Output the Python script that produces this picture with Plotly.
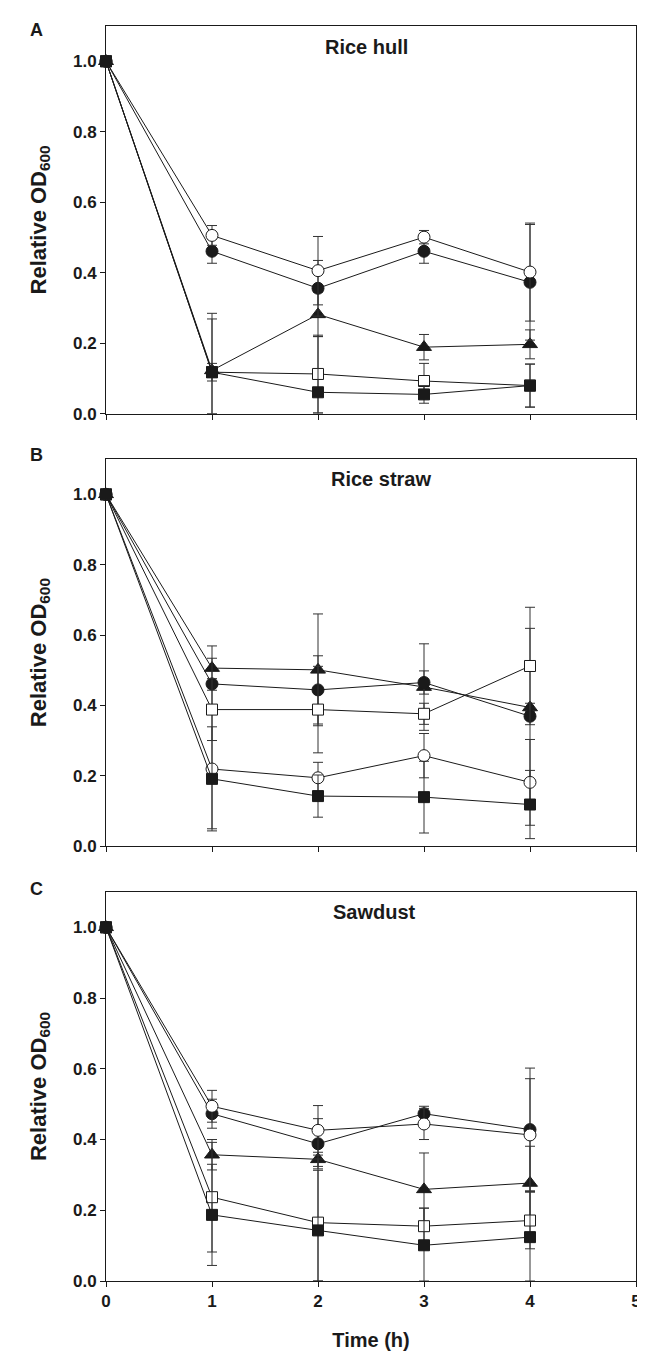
import plotly.graph_objects as go

time_h = [0, 1, 2, 3, 4]

# Panel A: Rice hull
A_fc = [1.0, 0.461, 0.356, 0.461, 0.373]
A_fc_err = [0, 0.034, 0.079, 0.034, 0.164]
A_oc = [1.0, 0.506, 0.406, 0.501, 0.402]
A_oc_err = [0, 0.028, 0.097, 0.019, 0.139]
A_tri = [1.0, 0.123, 0.282, 0.189, 0.197]
A_tri_err = [0, 0.146, 0.063, 0.036, 0.041]
A_os = [1.0, 0.118, 0.113, 0.093, 0.080]
A_os_err = [0, 0.025, 0.110, 0.050, 0.061]
A_fs = [1.0, 0.118, 0.061, 0.055, 0.080]
A_fs_err = [0, 0.167, 0.158, 0.025, 0.061]

# Panel B: Rice straw
B_fc = [1.0, 0.461, 0.444, 0.465, 0.369]
B_fc_err = [0, 0.073, 0.097, 0.033, 0.250]
B_oc = [1.0, 0.219, 0.194, 0.257, 0.181]
B_oc_err = [0, 0.170, 0.044, 0.063, 0.122]
B_tri = [1.0, 0.506, 0.501, 0.452, 0.394]
B_tri_err = [0, 0.063, 0.159, 0.123, 0.012]
B_os = [1.0, 0.388, 0.388, 0.376, 0.512]
B_os_err = [0, 0.088, 0.123, 0.030, 0.167]
B_fs = [1.0, 0.191, 0.142, 0.139, 0.118]
B_fs_err = [0, 0.148, 0.060, 0.102, 0.097]

# Panel C: Sawdust
C_fc = [1.0, 0.473, 0.388, 0.473, 0.428]
C_fc_err = [0, 0.041, 0.071, 0.021, 0.174]
C_oc = [1.0, 0.494, 0.426, 0.444, 0.413]
C_oc_err = [0, 0.045, 0.070, 0.044, 0.159]
C_tri = [1.0, 0.357, 0.344, 0.259, 0.277]
C_tri_err = [0, 0.043, 0.020, 0.103, 0.104]
C_os = [1.0, 0.237, 0.165, 0.155, 0.171]
C_os_err = [0, 0.155, 0.180, 0.051, 0.080]
C_fs = [1.0, 0.187, 0.143, 0.101, 0.124]
C_fs_err = [0, 0.143, 0.170, 0.105, 0.130]

panel_titles = ["Rice hull", "Rice straw", "Sawdust"]
panel_letters = ["A", "B", "C"]
y_ticks = [0.0, 0.2, 0.4, 0.6, 0.8, 1.0]
x_ticks = [0, 1, 2, 3, 4, 5]

FONT = "Arial, Liberation Sans, sans-serif"
INK = "#1a1a1a"

styles = {
    "tri": dict(symbol="triangle-up", size=13, color=INK),
    "fc": dict(symbol="circle", size=12, color=INK),
    "oc": dict(symbol="circle", size=12, color="white"),
    "os": dict(symbol="square", size=11, color="white"),
    "fs": dict(symbol="square", size=11, color=INK),
}

panels = [
    {"tri": (A_tri, A_tri_err), "fc": (A_fc, A_fc_err), "oc": (A_oc, A_oc_err),
     "os": (A_os, A_os_err), "fs": (A_fs, A_fs_err)},
    {"tri": (B_tri, B_tri_err), "fc": (B_fc, B_fc_err), "oc": (B_oc, B_oc_err),
     "os": (B_os, B_os_err), "fs": (B_fs, B_fs_err)},
    {"tri": (C_tri, C_tri_err), "fc": (C_fc, C_fc_err), "oc": (C_oc, C_oc_err),
     "os": (C_os, C_os_err), "fs": (C_fs, C_fs_err)},
]

fig = go.Figure()
axis_ids = ["", "2", "3"]
for i, pdata in enumerate(panels):
    for key in ["tri", "fc", "oc", "os", "fs"]:
        y, e = pdata[key]
        st = styles[key]
        fig.add_trace(go.Scatter(
            x=time_h, y=y, mode="lines+markers", name=key,
            xaxis="x" + axis_ids[i], yaxis="y" + axis_ids[i],
            line=dict(color=INK, width=1),
            marker=dict(symbol=st["symbol"], size=st["size"], color=st["color"],
                        line=dict(color=INK, width=1)),
            error_y=dict(type="data", symmetric=False, array=e,
                         arrayminus=[min(a, b) for a, b in zip(e, y)],
                         color="#333333", thickness=1, width=5),
            cliponaxis=False, showlegend=False,
        ))

domains = [[0.691, 1.0], [0.3466, 0.6548], [0.0, 0.31]]
common_axis = dict(showline=True, linecolor=INK, linewidth=1, mirror=True,
                   ticks="outside", ticklen=5, tickwidth=1, tickcolor=INK,
                   showgrid=False, zeroline=False,
                   tickfont=dict(family=FONT, size=17, color=INK, weight="bold"))
layout = dict(width=645, height=1351, plot_bgcolor="white", paper_bgcolor="white",
              margin=dict(l=98, r=14, t=18, b=75), showlegend=False)
for i in range(3):
    xa = dict(common_axis, range=[0, 5], tickvals=x_ticks,
              showticklabels=(i == 2), anchor="y" + axis_ids[i])
    if i == 2:
        xa["title"] = dict(text="<b>Time (h)</b>", standoff=22,
                           font=dict(family=FONT, size=20, color=INK))
    else:
        xa["matches"] = "x3"
    ya = dict(common_axis, range=[0, 1.1], tickvals=y_ticks, tickformat=".1f",
              domain=domains[i], anchor="x" + axis_ids[i],
              title=dict(text="<b>Relative OD<sub>600</sub></b>", standoff=20,
                         font=dict(family=FONT, size=22, color=INK)))
    layout["xaxis" + axis_ids[i]] = xa
    layout["yaxis" + axis_ids[i]] = ya

fig.update_layout(**layout)

title_pos = [(0.4916, 0.9833), (0.518, 0.6393), (0.5066, 0.2937)]
letter_pos = [0.9968, 0.6583, 0.3125]
for i in range(3):
    fig.add_annotation(text="<b>" + panel_titles[i] + "</b>", xref="paper", yref="paper",
                       x=title_pos[i][0], y=title_pos[i][1], showarrow=False,
                       xanchor="center", yanchor="middle",
                       font=dict(family=FONT, size=20, color=INK))
    fig.add_annotation(text="<b>" + panel_letters[i] + "</b>", xref="paper", yref="paper",
                       x=-0.131, y=letter_pos[i], showarrow=False,
                       xanchor="center", yanchor="middle",
                       font=dict(family=FONT, size=18, color=INK))

fig.write_html("out.html")
